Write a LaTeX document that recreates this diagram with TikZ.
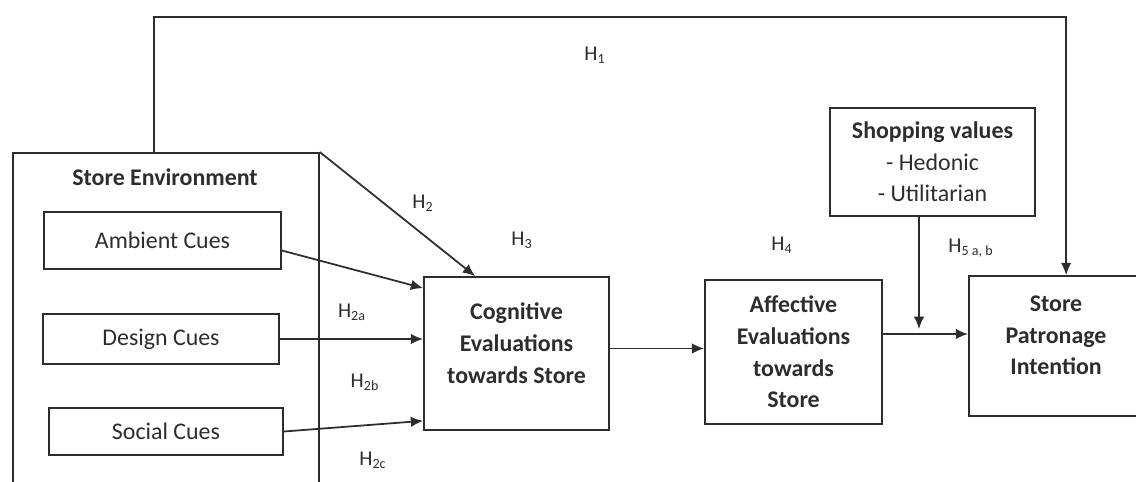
\documentclass[tikz,border=0pt]{standalone}
\usepackage{fontspec}
\setmainfont{Carlito}
\usetikzlibrary{arrows.meta,calc}
\definecolor{LineClr}{RGB}{45,45,45}

\begin{document}
\begin{tikzpicture}[x=0.02cm,y=-0.02cm,
  box/.style={draw=LineClr,line width=1pt,align=center,inner sep=0pt,text=LineClr,
    font=\fontsize{13.6}{18}\selectfont\bfseries},
  cue/.style={box,font=\fontsize{13.6}{18}\selectfont},
  hyp/.style={text=LineClr,font=\fontsize{12}{14}\selectfont},
  link/.style={-{Latex[length=7pt,width=6pt]},draw=LineClr,line width=1pt}]
\useasboundingbox (0,0) rectangle (1136,482);
\clip (0,0) rectangle (1136,482);

\node[box,anchor=north west,minimum width=6.12cm,minimum height=7cm] (env) at (12,152) {};
\node[text=LineClr,font=\fontsize{13.6}{18}\selectfont\bfseries] (envtitle) at (165,177) {Store Environment};

\node[cue,minimum width=4.74cm,minimum height=1.14cm] (ambient) at (162.5,240.5) {Ambient Cues};
\node[cue,minimum width=4.72cm,minimum height=1cm] (design) at (161,339) {Design Cues};
\node[cue,minimum width=4.68cm,minimum height=0.94cm] (social) at (166,431.5) {Social Cues};

\node[box,minimum width=3.7cm,minimum height=3.06cm,text depth=0.42cm] (cognitive) at (516.5,353.5)
  {Cognitive\\Evaluations\\towards Store};
\node[box,minimum width=3.54cm,minimum height=2.88cm] (affective) at (793.5,352)
  {Affective\\Evaluations\\towards\\Store};
\node[box,minimum width=4.1cm,minimum height=2.16cm] (shopping) at (932.5,162)
  {Shopping values\\\mdseries - Hedonic\\\mdseries - Utilitarian};
\node[box,minimum width=3.48cm,minimum height=2.8cm,text depth=0.42cm] (patronage) at (1056,346)
  {Store\\Patronage\\Intention};

% hypotheses
\node[hyp] (h1) at (595,55) {H\textsubscript{1}};
\node[hyp] (h2) at (423,203) {H\textsubscript{2}};
\node[hyp] (h3) at (522,240) {H\textsubscript{3}};
\node[hyp] (h2a) at (352,312) {H\textsubscript{2a}};
\node[hyp] (h2b) at (365,382) {H\textsubscript{2b}};
\node[hyp] (h2c) at (373,460) {H\textsubscript{2c}};
\node[hyp] (h4) at (782,245) {H\textsubscript{4}};
\node[hyp] (h5) at (971,248) {H\textsubscript{5 a, b}};

\coordinate (mod) at (919,334);
\coordinate (cogout) at ([yshift=0.1cm]cognitive.east);

\draw[link] ([xshift=2.84cm]env.north west) -- ++(0,-135) -| ([xshift=1.96cm]patronage.north west);
\draw[link] (env.north east) -- ([xshift=1.04cm]cognitive.north west);
\draw[link] ([yshift=-0.2cm]ambient.east) -- ([yshift=-0.24cm]cognitive.north west);
\draw[link] (design.east) -- (cognitive.west |- design.east);
\draw[link] (social.east) -- ([yshift=0.2cm]cognitive.south west);
\draw[link] (cogout) -- (affective.west |- cogout);
\draw[link] (affective.east |- mod) -- (patronage.west |- mod);
\draw[link] (shopping.south -| mod) -- ([yshift=0.1cm]mod);

\end{tikzpicture}
\end{document}
